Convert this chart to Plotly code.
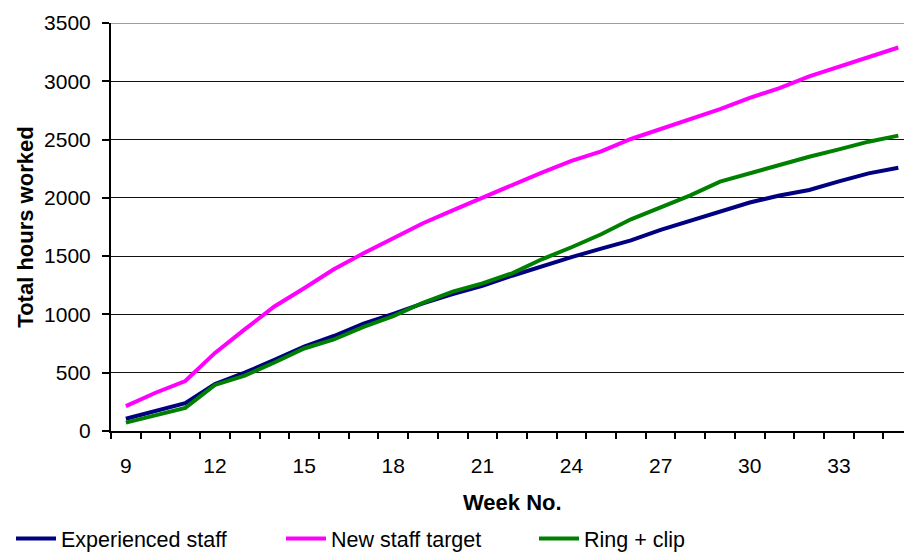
import plotly.graph_objects as go

# Week numbers and cumulative hours worked for each group
weeks = list(range(9, 36))
experienced_staff = [105, 172, 238, 403, 500, 610, 725, 815, 920, 1005, 1095, 1175, 1245, 1332,
                     1415, 1492, 1565, 1635, 1725, 1805, 1885, 1960, 2020, 2068, 2142, 2210, 2258]
new_staff_target = [214, 328, 429, 670, 872, 1068, 1225, 1388, 1524, 1653, 1782, 1893, 2003, 2110,
                    2217, 2318, 2398, 2505, 2590, 2680, 2762, 2858, 2942, 3042, 3122, 3204, 3290]
ring_clip = [72, 132, 198, 395, 475, 588, 708, 785, 893, 985, 1100, 1195, 1267, 1353,
             1473, 1576, 1688, 1816, 1915, 2022, 2139, 2210, 2288, 2353, 2416, 2482, 2534]

x_labels = [9, 12, 15, 18, 21, 24, 27, 30, 33]
y_ticks = [0, 500, 1000, 1500, 2000, 2500, 3000, 3500]

FONT = "Liberation Sans, Arial, sans-serif"
TICK_SIZE = 21
TITLE_SIZE = 22
LEGEND_SIZE = 21.5

series = [
    ("Experienced staff", experienced_staff, "#000080", "legend"),
    ("New staff target", new_staff_target, "#FF00FF", "legend2"),
    ("Ring + clip", ring_clip, "#008000", "legend3"),
]

fig = go.Figure()
for name, values, color, leg in series:
    fig.add_trace(go.Scatter(
        x=weeks, y=values, name=name, mode="lines",
        line=dict(color=color, width=4), legend=leg,
    ))

W, H = 904, 552
L, R, T, B = 111, 0, 23, 121
plot_w = W - L - R
plot_h = H - T - B
week_px = 29.71
x_end = 8.5 + plot_w / week_px


def px_to_paper_x(px):
    return (px - L) / plot_w


def px_to_paper_y(py):
    return (H - B - py) / plot_h


legend_common = dict(
    orientation="h", yanchor="middle", xanchor="left",
    font=dict(family=FONT, size=LEGEND_SIZE, color="black"),
    bgcolor="rgba(0,0,0,0)", borderwidth=0, itemwidth=40,
)
legend_y = px_to_paper_y(538.5)

fig.update_layout(
    width=W, height=H,
    margin=dict(l=L, r=R, t=T, b=B, pad=0, autoexpand=False),
    paper_bgcolor="white", plot_bgcolor="white",
    font=dict(family=FONT, size=TICK_SIZE, color="black"),
    showlegend=True,
    legend=dict(x=px_to_paper_x(11), y=legend_y, **legend_common),
    legend2=dict(x=px_to_paper_x(281), y=legend_y, **legend_common),
    legend3=dict(x=px_to_paper_x(534), y=legend_y, **legend_common),
    xaxis=dict(
        range=[8.5, x_end], automargin=False,
        tickmode="array", tickvals=x_labels, ticktext=[str(v) for v in x_labels],
        ticks="", showgrid=False, zeroline=False,
        showline=True, linecolor="black", linewidth=2,
        tickfont=dict(family=FONT, size=TICK_SIZE, color="black"),
        ticklabelstandoff=15,
        minor=dict(tickmode="array", tickvals=[w - 0.5 for w in weeks] + [weeks[-1] + 0.5],
                   ticks="outside", ticklen=6, tickwidth=2, tickcolor="black", showgrid=False),
    ),
    yaxis=dict(
        range=[0, 3500], automargin=False,
        tickmode="array", tickvals=y_ticks,
        ticks="outside", ticklen=7, tickwidth=2, tickcolor="black",
        showgrid=True, gridcolor="#111111", gridwidth=1.3,
        zeroline=False, showline=True, linecolor="black", linewidth=2,
        tickfont=dict(family=FONT, size=TICK_SIZE, color="black"),
        ticklabelstandoff=7,
        title=dict(text="<b>Total hours worked</b>", standoff=4,
                   font=dict(family=FONT, size=TITLE_SIZE, color="black")),
    ),
    annotations=[dict(
        text="<b>Week No.</b>", x=(8.5 + weeks[-1] + 0.5) / 2, xref="x",
        y=px_to_paper_y(502), yref="paper", xanchor="center", yanchor="middle",
        showarrow=False, font=dict(family=FONT, size=TITLE_SIZE, color="black"),
    )],
    shapes=[dict(type="line", xref="paper", x0=0, x1=1, yref="y", y0=3500, y1=3500,
                 line=dict(color="#7f7f7f", width=1.5), layer="below")],
)

fig.write_html("out.html")
